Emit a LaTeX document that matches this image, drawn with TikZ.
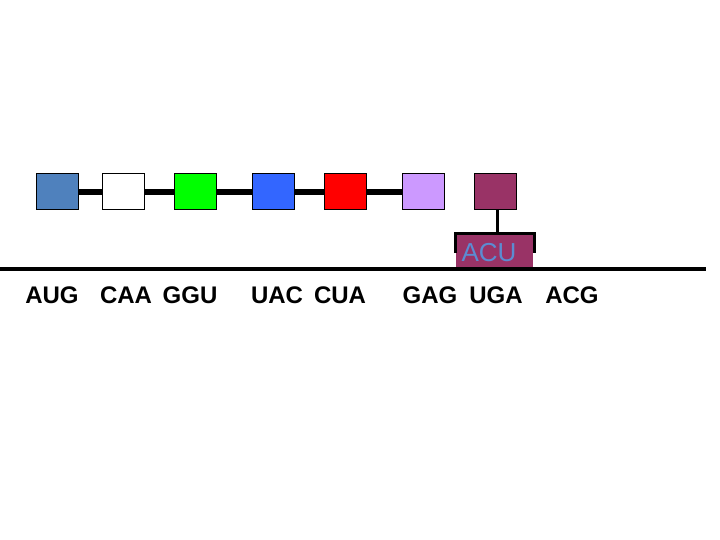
\documentclass[tikz,border=0pt]{standalone}
\usepackage{fontspec}
\setmainfont{Liberation Sans}
\definecolor{cSteel}{HTML}{4F81BD}
\definecolor{cBlue}{HTML}{3366FF}
\definecolor{cGreen}{HTML}{00FF00}
\definecolor{cRed}{HTML}{FF0000}
\definecolor{cLav}{HTML}{CC99FF}
\definecolor{cMaroon}{HTML}{993366}
\definecolor{cText}{HTML}{5B8CD2}
\begin{document}
\begin{tikzpicture}[x=1pt,y=-1pt,
  aa/.style={draw=black,line width=1pt,minimum width=42pt,minimum height=36pt,inner sep=0pt},
  bond/.style={line width=6pt},
  codon/.style={font=\fontsize{24}{28}\selectfont\bfseries,inner sep=0pt}]
\useasboundingbox (0,0) rectangle (720,540);
% amino acids
\node[aa,fill=cSteel] (a1) at (57,192) {};
\node[aa,fill=white] (a2) at (123,192) {};
\node[aa,fill=cGreen] (a3) at (195,192) {};
\node[aa,fill=cBlue] (a4) at (273,192) {};
\node[aa,fill=cRed] (a5) at (345,192) {};
\node[aa,fill=cLav] (a6) at (423,192) {};
\node[aa,fill=cMaroon] (a7) at (495,192) {};
\draw[bond] (a1.east) -- (a2.west);
\draw[bond] (a2.east) -- (a3.west);
\draw[bond] (a3.east) -- (a4.west);
\draw[bond] (a4.east) -- (a5.west);
\draw[bond] (a5.east) -- (a6.west);
% tRNA
\fill[cMaroon] (456,232) rectangle (533,271);
\node[font=\fontsize{26}{30}\selectfont,text=cText,inner sep=0pt] (t) at (489,253) {ACU};
\draw[line width=3pt] (455,253) -- (455,233.5) -- (534,233.5) -- (534,253);
\coordinate (tt) at (497,233.5);
\draw[line width=3pt] (a7.south -| tt) -- (tt);
% mRNA
\coordinate (m0) at (0,269);
\coordinate (m1) at (706,269);
\draw[line width=4pt] (m0) -- (m1);
% codons
\node[codon] (c1) at (52,295) {AUG};
\node[codon] (c2) at (126,295) {CAA};
\node[codon] (c3) at (190,295) {GGU};
\node[codon] (c4) at (277,295) {UAC};
\node[codon] (c5) at (340,295) {CUA};
\node[codon] (c6) at (430,295) {GAG};
\node[codon] (c7) at (496,295) {UGA};
\node[codon] (c8) at (572,295) {ACG};
\end{tikzpicture}
\end{document}
